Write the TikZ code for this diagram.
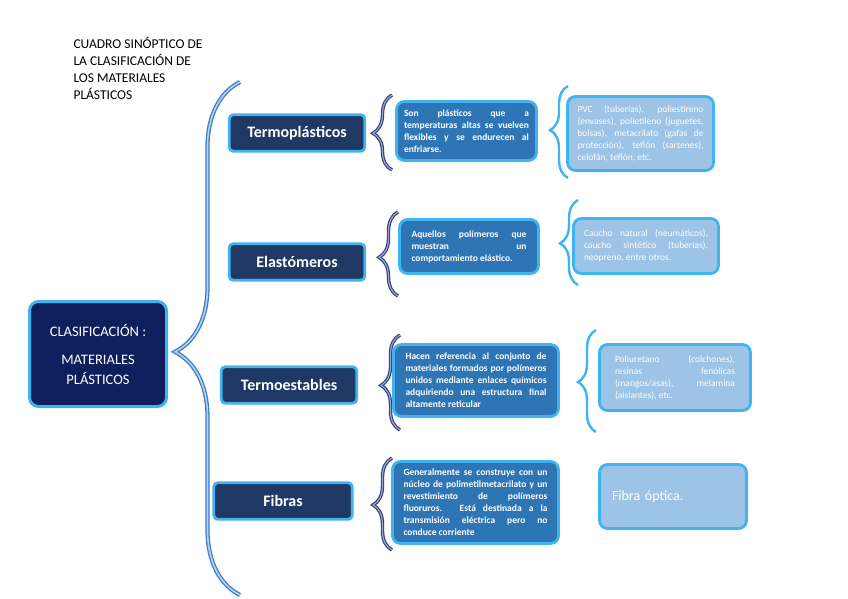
\documentclass[tikz,border=0pt]{standalone}
\usepackage{fontspec}
\setmainfont{Carlito}
\usetikzlibrary{decorations.pathreplacing}
\definecolor{cbNight}{HTML}{0E1F5B}
\definecolor{cbNavy}{HTML}{1F3864}
\definecolor{cbMid}{HTML}{2E75B6}
\definecolor{cbPale}{HTML}{9DC3E6}
\definecolor{cbEdge}{HTML}{40B4F0}
\definecolor{cbBrace}{HTML}{3A7DC2}
\definecolor{cbBraceIn}{HTML}{B4D3F0}
\definecolor{cbInk}{HTML}{2C3B7A}
\definecolor{cbInkIn}{HTML}{9AA6D0}
\hyphenpenalty=10000
\exhyphenpenalty=10000
\tolerance=10000

\begin{document}
\begin{tikzpicture}[x=1pt,y=-1pt,
  hub/.style={draw=cbEdge,fill=cbNight,line width=3pt,rounded corners=9pt,
              minimum width=137pt,minimum height=105pt,align=center,text=white,
              font=\fontsize{14.5}{20}\selectfont},
  cat/.style={draw=cbEdge,fill=cbNavy,line width=2.8pt,rounded corners=4pt,
              minimum width=135.5pt,minimum height=36.5pt,text=white,
              font=\bfseries\fontsize{16}{18}\selectfont},
  desc/.style={draw=cbEdge,fill=cbMid,line width=2.8pt,rounded corners=8pt,
               inner xsep=0pt,align=justify,text=white,
               font=\bfseries\fontsize{9.5}{12}\selectfont},
  expl/.style={draw=cbEdge,fill=cbPale,line width=2.8pt,rounded corners=8pt,
               inner xsep=0pt,align=justify,text=white,
               font=\fontsize{9.5}{12}\selectfont},
  bigbr/.style={decorate,decoration={brace,amplitude=65pt,aspect=#1},
                draw=cbBrace,double=cbBraceIn,double distance=1.6pt,line width=1.3pt},
  inkbr/.style={decorate,decoration={brace,amplitude=19pt,aspect=#1},
                draw=cbInk,double=cbInkIn,double distance=1.2pt,line width=1.1pt},
  palebr/.style={decorate,decoration={brace,amplitude=18pt,aspect=#1},
                 draw=cbEdge,line width=2.4pt}]
\useasboundingbox (0,0) rectangle (848,599);

% title
\node[anchor=north west,align=left,font=\fontsize{13.5}{17}\selectfont] (title) at (70,34)
  {CUADRO SINÓPTICO DE\\ LA CLASIFICACIÓN DE\\ LOS MATERIALES\\ PLÁSTICOS};

% braces
\coordinate (bigBot) at (240,595);
\coordinate (bigTop) at (240,82);
\draw[bigbr=0.474] (bigBot) -- (bigTop);

\coordinate (s1b) at (392,170); \coordinate (s1t) at (392,95);
\coordinate (s2b) at (398,296); \coordinate (s2t) at (398,212);
\coordinate (s3b) at (400,430); \coordinate (s3t) at (400,335);
\coordinate (s4b) at (392,550); \coordinate (s4t) at (392,458);
\draw[inkbr=0.49] (s1b) -- (s1t);
\draw[inkbr=0.46] (s2b) -- (s2t);
\draw[inkbr=0.47] (s3b) -- (s3t);
\draw[inkbr=0.49] (s4b) -- (s4t);

\coordinate (l1b) at (568,178); \coordinate (l1t) at (568,86);
\coordinate (l2b) at (578,285); \coordinate (l2t) at (578,200);
\coordinate (l3b) at (596,432); \coordinate (l3t) at (596,330);
\draw[palebr=0.52] (l1b) -- (l1t);
\draw[palebr=0.49] (l2b) -- (l2t);
\draw[palebr=0.49] (l3b) -- (l3t);

% hub and families
\node[hub] (hub) at (98,354) {CLASIFICACIÓN :\\[8pt] MATERIALES\\ PLÁSTICOS};
\node[cat] (termo) at (297,133) {Termoplásticos};
\node[cat] (elast) at (297,262) {Elastómeros};
\node[cat] (tmest) at (289,385) {Termoestables};
\node[cat,minimum width=138.5pt] (fibra) at (283,501) {Fibras};

% descriptions
\node[desc,minimum width=140pt,text width=125pt,minimum height=59pt] (dtermo) at (466.5,131)
  {Son plásticos que a temperaturas altas se vuelven flexibles y se endurecen al enfriarse.};
\node[desc,minimum width=139pt,text width=115pt,minimum height=54pt] (delast) at (469,246.5)
  {Aquellos polímeros que\linebreak muestran un\linebreak comportamiento elástico.};
\node[desc,minimum width=165pt,text width=141pt,minimum height=72pt] (dtmest) at (476,380.5)
  {Hacen referencia al conjunto de materiales formados por polímeros unidos mediante enlaces químicos adquiriendo una estructura final altamente reticular};
\node[desc,minimum width=166pt,text width=144pt,minimum height=82pt] (dfibra) at (475.5,502.5)
  {Generalmente se construye con un\linebreak núcleo de polimetilmetacrilato y un\linebreak revestimiento de polímeros\linebreak fluoruros. Está destinada a la\linebreak transmisión eléctrica pero no\linebreak conduce corriente};

% examples
\node[expl,minimum width=146pt,text width=126pt,minimum height=74pt] (etermo) at (640.5,133.5)
  {PVC (tuberías), poliestireno (envases), polietileno (juguetes, bolsas), metacrilato (gafas de protección), teflón (sartenes), celofán, teflón, etc.};
\node[expl,minimum width=145pt,text width=124pt,minimum height=55pt] (eelast) at (646,246)
  {Caucho natural (neumáticos), caucho sintético (tuberías), neopreno, entre otros.};
\node[expl,minimum width=151pt,text width=120pt,minimum height=66pt] (etmest) at (675,377.5)
  {Poliuretano (colchones), resinas fenólicas (mangos/asas), melamina (aislantes), etc.};
\node[expl,align=left,minimum width=147pt,text width=122pt,minimum height=64pt,
      font=\fontsize{14}{16}\selectfont] (efibra) at (673,496.5) {Fibra óptica.};
\end{tikzpicture}
\end{document}
